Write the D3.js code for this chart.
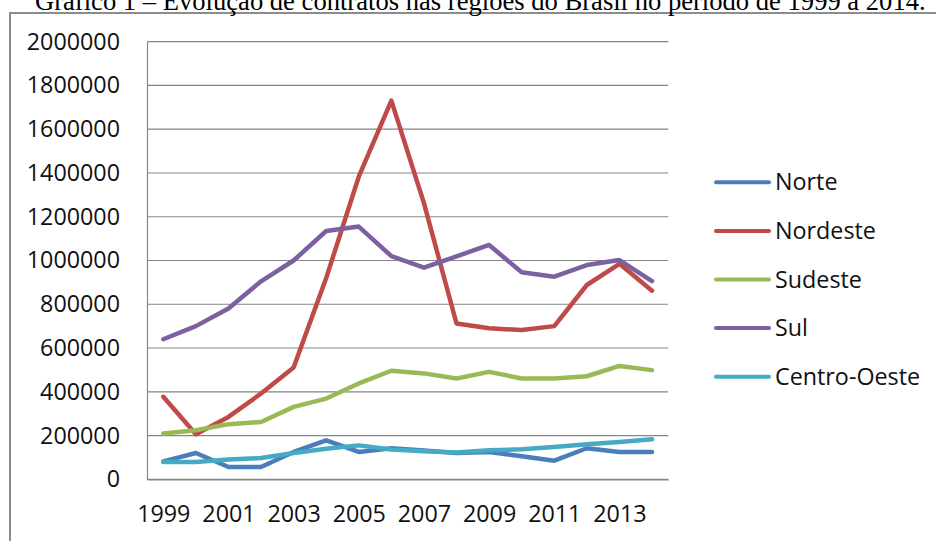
<!DOCTYPE html>
<html>
<head>
<meta charset="utf-8">
<script src="https://cdn.jsdelivr.net/npm/d3@7/dist/d3.min.js"></script>
<style>
  html, body { margin: 0; padding: 0; background: #fff; }
  svg { display: block; }
</style>
</head>
<body>
<svg id="chart" width="936" height="541"></svg>
<script>
// ---- data ----
const years = [1999, 2000, 2001, 2002, 2003, 2004, 2005, 2006, 2007, 2008, 2009, 2010, 2011, 2012, 2013, 2014];
const norte    = [82000, 120000, 56000, 56000, 125000, 178000, 125000, 142000, 132000, 120000, 125000, 105000, 85000, 142000, 125000, 125000];
const nordeste = [377000, 206000, 285000, 392000, 511000, 920000, 1383000, 1731000, 1262000, 712000, 690000, 682000, 700000, 888000, 985000, 862000];
const sudeste  = [209000, 224000, 252000, 262000, 331000, 369000, 438000, 496000, 484000, 461000, 491000, 461000, 461000, 471000, 518000, 499000];
const sul      = [640000, 700000, 781000, 905000, 1000000, 1135000, 1155000, 1020000, 967000, 1019000, 1071000, 946000, 926000, 979000, 1002000, 906000];
const centroOeste = [79000, 79000, 90000, 97000, 120000, 140000, 155000, 136000, 128000, 122000, 133000, 137000, 148000, 160000, 171000, 183000];

const seriesNames = ["Norte", "Nordeste", "Sudeste", "Sul", "Centro-Oeste"];
const seriesValues = [norte, nordeste, sudeste, sul, centroOeste];
const seriesColors = ["#4A7EBB", "#BE4B48", "#98B954", "#7D60A0", "#46AAC5"];
const yTicks = [0, 200000, 400000, 600000, 800000, 1000000, 1200000, 1400000, 1600000, 1800000, 2000000];
const xTicks = [1999, 2001, 2003, 2005, 2007, 2009, 2011, 2013];
const title = "Gráfico 1 – Evolução de contratos nas regiões do Brasil no período de 1999 a 2014.";

// ---- layout ----
const svg = d3.select("#chart");
const plot = { left: 147, right: 668.3, top: 41.7, bottom: 479.3 };
const fontFamily = "'Open Sans', 'Liberation Sans', sans-serif";
const fontSize = 23.3;

// frame
svg.append("path")
  .attr("d", "M10,545 L10,13 L940,13")
  .attr("fill", "none")
  .attr("stroke", "#8c8c8c")
  .attr("stroke-width", 2);

// title (clipped at the top, as in the reference)
svg.append("text")
  .attr("x", 35)
  .attr("y", 10)
  .attr("font-family", "'Liberation Serif', 'Times New Roman', serif")
  .attr("font-size", 26.6)
  .attr("fill", "#000")
  .text(title);

const x = d3.scalePoint().domain(years).range([plot.left, plot.right]).padding(0.5);
const y = d3.scaleLinear().domain([0, 2000000]).range([plot.bottom, plot.top]);

// gridlines
svg.append("g")
  .selectAll("line")
  .data(yTicks)
  .join("line")
  .attr("x1", plot.left)
  .attr("x2", plot.right)
  .attr("y1", d => y(d))
  .attr("y2", d => y(d))
  .attr("stroke", "#868686")
  .attr("stroke-width", 1.2);

// y axis
const yAxis = svg.append("g")
  .attr("transform", `translate(${plot.left},0)`)
  .call(d3.axisLeft(y).tickValues(yTicks).tickSize(0).tickPadding(27).tickFormat(d3.format("d")));
yAxis.select(".domain").attr("stroke", "#868686").attr("stroke-width", 1.2);
yAxis.selectAll("text")
  .attr("font-family", fontFamily)
  .attr("font-size", fontSize)
  .attr("fill", "#111");

// x axis
const xAxis = svg.append("g")
  .attr("transform", `translate(0,${plot.bottom})`)
  .call(d3.axisBottom(x).tickValues(xTicks).tickSize(0).tickPadding(26));
xAxis.select(".domain").attr("stroke", "#868686").attr("stroke-width", 1.2);
xAxis.selectAll("text")
  .attr("font-family", fontFamily)
  .attr("font-size", fontSize)
  .attr("fill", "#111");

// lines
const line = d3.line()
  .x((d, i) => x(years[i]))
  .y(d => y(d));

svg.append("g")
  .selectAll("path")
  .data(seriesValues)
  .join("path")
  .attr("d", d => line(d))
  .attr("fill", "none")
  .attr("stroke", (d, i) => seriesColors[i])
  .attr("stroke-width", 4.5)
  .attr("stroke-linejoin", "round")
  .attr("stroke-linecap", "round");

// legend
const legend = svg.append("g");
const legendY = d3.scalePoint().domain(seriesNames).range([182.3, 376.7]);
const items = legend.selectAll("g")
  .data(seriesNames)
  .join("g")
  .attr("transform", d => `translate(0,${legendY(d)})`);
items.append("line")
  .attr("x1", 716).attr("x2", 769)
  .attr("y1", 0).attr("y2", 0)
  .attr("stroke", (d, i) => seriesColors[i])
  .attr("stroke-width", 4)
  .attr("stroke-linecap", "round");
items.append("text")
  .attr("x", 775)
  .attr("y", 0)
  .attr("dy", "0.35em")
  .attr("font-family", fontFamily)
  .attr("font-size", fontSize)
  .attr("fill", "#111")
  .text(d => d);
</script>
</body>
</html>
